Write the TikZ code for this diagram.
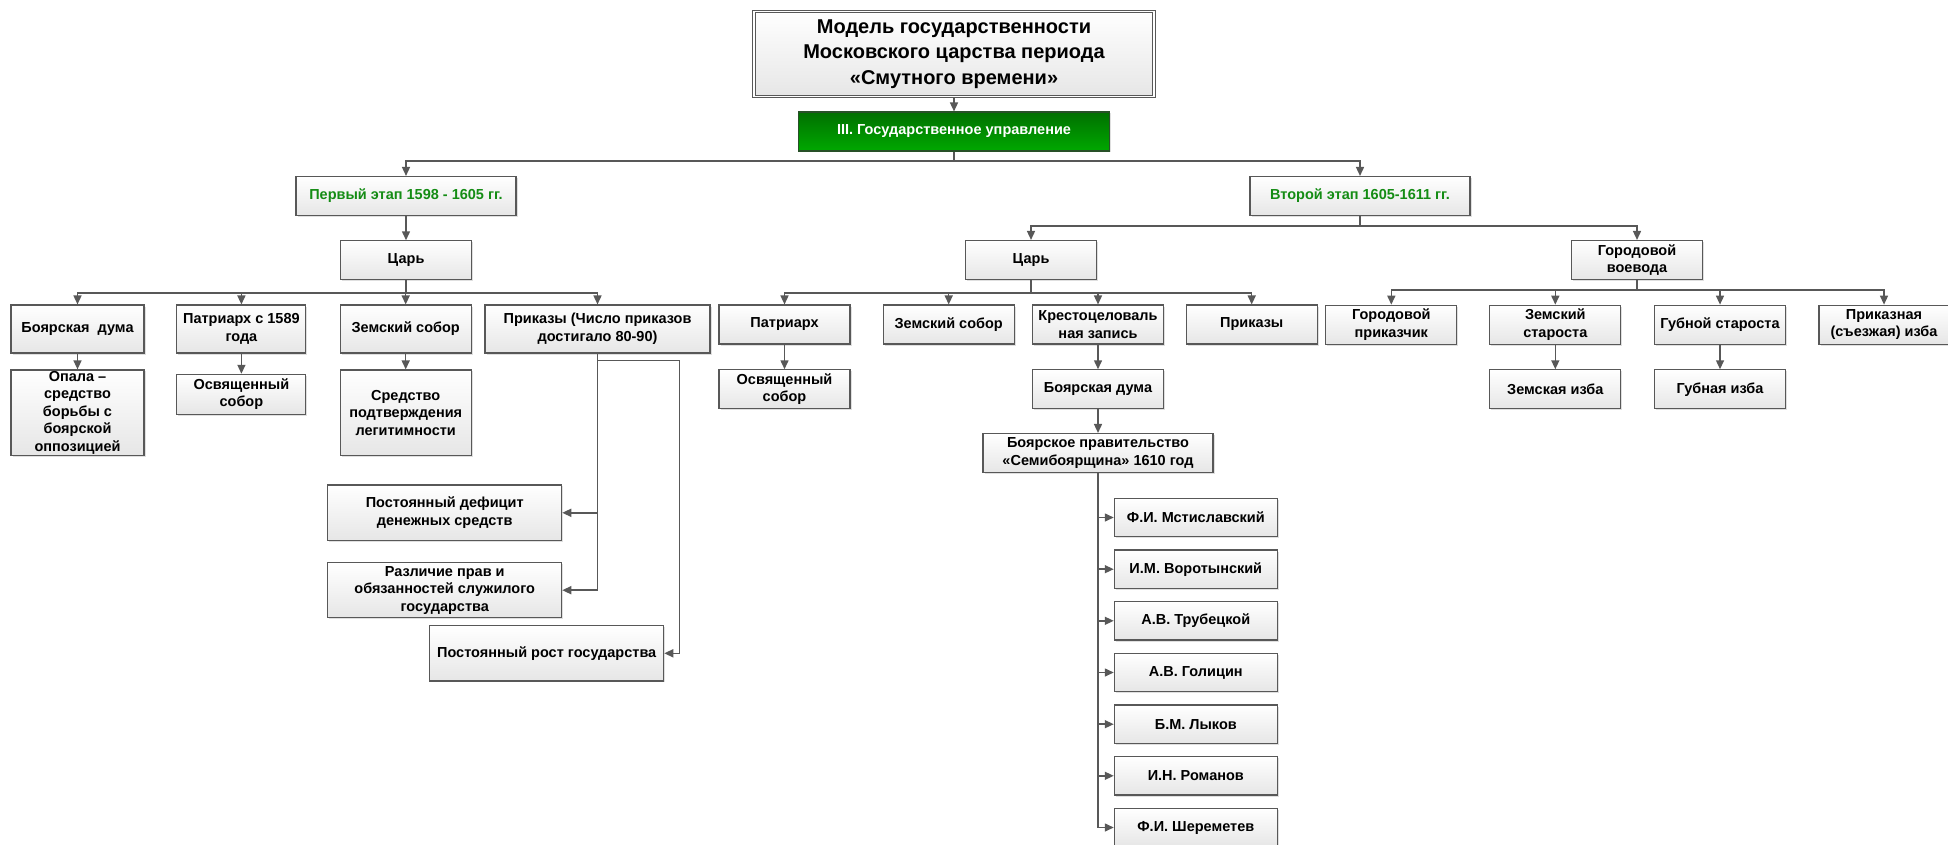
\documentclass[tikz,border=0pt]{standalone}
\usepackage{fontspec}
\setmainfont{Liberation Sans}
\usetikzlibrary{arrows.meta,shadows}

\definecolor{linegray}{RGB}{88,88,88}
\definecolor{boxbottom}{RGB}{230,230,230}
\definecolor{stagegreen}{RGB}{20,140,20}
\definecolor{govtop}{RGB}{0,112,0}
\definecolor{govbottom}{RGB}{0,168,0}
\definecolor{govborder}{RGB}{40,80,40}

\begin{document}
\begin{tikzpicture}
    [x=1pt,y=-1pt,
     every node/.style={draw=linegray,line width=1.1pt,top color=white,bottom color=boxbottom,
       drop shadow={shadow xshift=1.5pt,shadow yshift=-1.5pt,opacity=.25},
       align=center,inner sep=1pt,minimum width=131,minimum height=39,
       font=\fontsize{14.5}{17.5}\selectfont\bfseries},
     titlebox/.style={double=white,double distance=1.5pt,minimum width=400,minimum height=85,
       font=\fontsize{20}{25.3}\selectfont\bfseries},
     govbox/.style={draw=govborder,top color=govtop,bottom color=govbottom,text=white,
       minimum width=311},
     stage/.style={minimum width=220,text=stagegreen},
     tall/.style={minimum height=48},
     wide/.style={minimum width=234},
     person/.style={minimum width=163,minimum height=38.4},
     arr/.style={draw=linegray,line width=1.5pt,-{Triangle[length=9pt,width=8pt]}}]
    \useasboundingbox (0,0) rectangle (1948,845);

    \node[titlebox] (title) at (954,54) {Модель государственности\\Московского царства периода\\«Смутного времени»};
    \node[govbox] (gov) at (954,131.5) {III. Государственное управление};

    % first stage
    \node[stage] (st1) at (406,196) {Первый этап 1598 - 1605 гг.};
    \node (tsar1) at (406,260.3) {Царь};
    \node[tall,minimum width=133] (bd1) at (77.5,329) {Боярская\ \ дума};
    \node[tall,minimum width=129] (pat1) at (241.4,329) {Патриарх с 1589\\года};
    \node[tall] (zs1) at (405.7,329) {Земский собор};
    \node[tall,minimum width=225] (pr1) at (597.5,329) {Приказы (Число приказов\\достигало 80-90)};
    \node[minimum width=133,minimum height=85.7] (opala) at (77.5,412.8) {Опала –\\средство\\борьбы с\\боярской\\оппозицией};
    \node[minimum width=129,minimum height=40] (osv1) at (241.4,394.3) {Освященный\\собор};
    \node[minimum height=85.7] (sred) at (405.7,412.8) {Средство\\подтверждения\\легитимности};
    \node[wide,minimum height=55.7] (deficit) at (444.7,512.8) {Постоянный дефицит\\денежных средств};
    \node[wide,minimum height=55] (razl) at (444.7,590.2) {Различие прав и\\обязанностей служилого\\государства};
    \node[wide,minimum height=55.3] (rost) at (546.7,653.3) {Постоянный рост государства};

    % second stage
    \node[stage] (st2) at (1360,196) {Второй этап 1605-1611 гг.};
    \node (tsar2) at (1031,260) {Царь};
    \node (gv) at (1637,260) {Городовой\\воевода};
    \node (pat2) at (784.5,324.5) {Патриарх};
    \node (zs2) at (948.7,324.5) {Земский собор};
    \node (kz) at (1098,324.5) {Крестоцеловаль\\ная запись};
    \node (pr2) at (1251.7,324.5) {Приказы};
    \node (osv2) at (784.5,389.3) {Освященный\\собор};
    \node (bd2) at (1098,389.3) {Боярская дума};
    \node[minimum width=230] (bp) at (1098,453) {Боярское правительство\\«Семибоярщина» 1610 год};
    \node[person] (p1) at (1195.8,517.5) {Ф.И. Мстиславский};
    \node[person] (p2) at (1195.8,569.2) {И.М. Воротынский};
    \node[person] (p3) at (1195.8,620.8) {А.В. Трубецкой};
    \node[person] (p4) at (1195.8,672.5) {А.В. Голицин};
    \node[person] (p5) at (1195.8,724.2) {Б.М. Лыков};
    \node[person] (p6) at (1195.8,775.8) {И.Н. Романов};
    \node[person] (p7) at (1195.8,827.5) {Ф.И. Шереметев};
    \node (gp) at (1391.3,324.7) {Городовой\\приказчик};
    \node (zst) at (1555.3,324.7) {Земский\\староста};
    \node (gst) at (1720,324.7) {Губной староста};
    \node[minimum width=130] (pi) at (1884,324.7) {Приказная\\(съезжая) изба};
    \node (zi) at (1555.3,389.3) {Земская изба};
    \node (gi) at (1720,389.3) {Губная изба};

    \draw[arr] (title) -- (gov);
    \foreach \to in {st1,st2} \draw[arr] (gov.south) -- ++(0,9.3) -| (\to.north);

    \foreach \from/\to in {st1/tsar1,bd1/opala,pat1/osv1,zs1/sred,pat2/osv2,kz/bd2,bd2/bp,zst/zi,gst/gi}
    \draw[arr] (\from) -- (\to);

    \foreach \to in {bd1,pat1,zs1,pr1} \draw[arr] (tsar1.south) -- ++(0,12.7) -| (\to.north);
    \foreach \to in {deficit,razl} \draw[arr] (pr1.south) |- (\to.east);
    \draw[arr] (pr1.south) -- ++(0,6.7) -- ++(82,0) |- (rost.east);

    \foreach \to in {tsar2,gv} \draw[arr] (st2.south) -- ++(0,10) -| (\to.north);
    \foreach \to in {pat2,zs2,kz,pr2} \draw[arr] (tsar2.south) -- ++(0,13) -| (\to.north);
    \foreach \to in {gp,zst,gst,pi} \draw[arr] (gv.south) -- ++(0,10) -| (\to.north);
    \foreach \i in {1,...,7} \draw[arr] (bp.south) |- (p\i.west);
\end{tikzpicture}
\end{document}
